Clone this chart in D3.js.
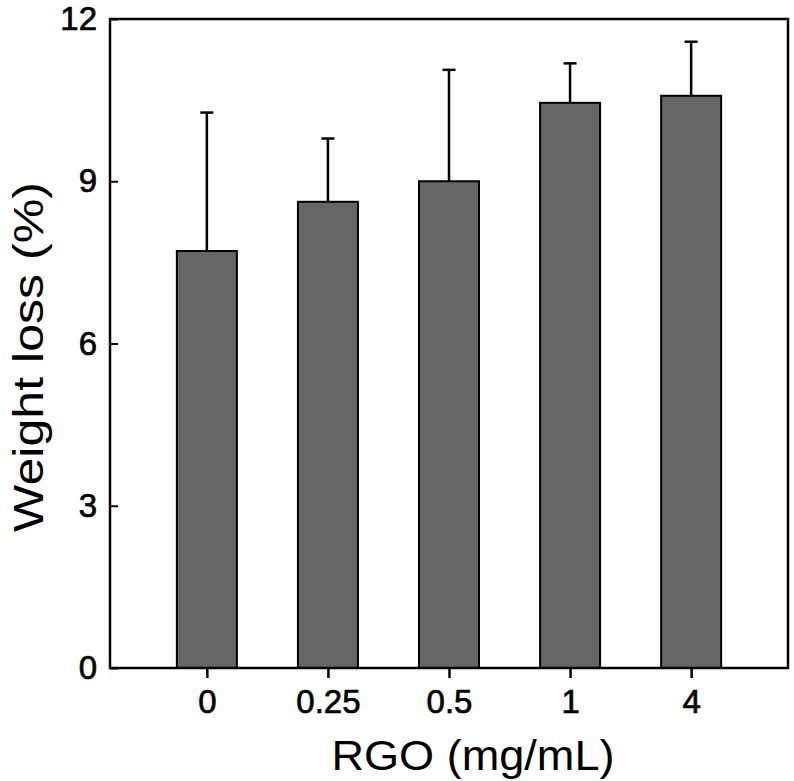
<!DOCTYPE html>
<html>
<head>
<meta charset="utf-8">
<script src="https://cdn.jsdelivr.net/npm/d3@7"></script>
<style>
  html, body { margin: 0; padding: 0; background: #fff; }
  svg { display: block; }
  text { font-family: "Liberation Sans", Arial, sans-serif; fill: #000; }
</style>
</head>
<body>
<svg id="chart" width="794" height="781"></svg>
<script>
const categories = ["0", "0.25", "0.5", "1", "4"];
const values = [7.71, 8.62, 9.0, 10.45, 10.58];
const errors = [2.56, 1.17, 2.06, 0.73, 1.0];
const yTicks = [0, 3, 6, 9, 12];

(function () {
const svg = d3.select("#chart");
const pL = 110, pR = 788, pT = 19, pB = 668;

const x = d3.scalePoint().domain(categories).range([pL, pR]).padding(0.8);
const y = d3.scaleLinear().domain([0, 12]).range([pB, pT]);
const barW = 60;

// bars
svg.append("g").selectAll("rect").data(values).join("rect")
  .attr("x", (d, i) => x(categories[i]) - barW / 2)
  .attr("y", d => y(d))
  .attr("width", barW)
  .attr("height", d => y(0) - y(d))
  .attr("fill", "#666666")
  .attr("stroke", "#000")
  .attr("stroke-width", 2);

// error bars (upper only)
const eg = svg.append("g").attr("stroke", "#000").attr("stroke-width", 2.5);
values.forEach((v, i) => {
  const cx = x(categories[i]);
  eg.append("line").attr("x1", cx).attr("x2", cx).attr("y1", y(v)).attr("y2", y(v + errors[i]));
  eg.append("line").attr("x1", cx - 6.5).attr("x2", cx + 6.5).attr("y1", y(v + errors[i])).attr("y2", y(v + errors[i]));
});

// frame
svg.append("rect").attr("x", pL).attr("y", pT).attr("width", pR - pL).attr("height", pB - pT)
  .attr("fill", "none").attr("stroke", "#000").attr("stroke-width", 2.5);

// y axis (ticks inward)
const ya = svg.append("g").attr("transform", `translate(${pL},0)`)
  .call(d3.axisLeft(y).tickValues(yTicks).tickSize(-8).tickPadding(13).tickFormat(d3.format("d")));
ya.select(".domain").remove();
ya.selectAll(".tick line").attr("stroke", "#000").attr("stroke-width", 2);
ya.selectAll(".tick text").attr("font-size", 33).attr("font-family", "Liberation Sans, Arial, sans-serif")
  .attr("stroke", "#000").attr("stroke-width", 0.7);

// x axis (ticks outward)
const xa = svg.append("g").attr("transform", `translate(0,${pB})`)
  .call(d3.axisBottom(x).tickSize(10).tickPadding(12));
xa.select(".domain").remove();
xa.selectAll(".tick line").attr("stroke", "#000").attr("stroke-width", 2.5);
xa.selectAll(".tick text").attr("font-size", 33).attr("font-family", "Liberation Sans, Arial, sans-serif")
  .attr("stroke", "#000").attr("stroke-width", 0.7);

// titles
svg.append("text").attr("x", 473).attr("y", 770).attr("text-anchor", "middle")
  .attr("font-size", 42).attr("textLength", 283).attr("lengthAdjust", "spacingAndGlyphs")
  .text("RGO (mg/mL)");
svg.append("text").attr("transform", "translate(43,357) rotate(-90)").attr("text-anchor", "middle")
  .attr("font-size", 43).attr("textLength", 350).attr("lengthAdjust", "spacingAndGlyphs")
  .text("Weight loss (%)");
})();
</script>
</body>
</html>
